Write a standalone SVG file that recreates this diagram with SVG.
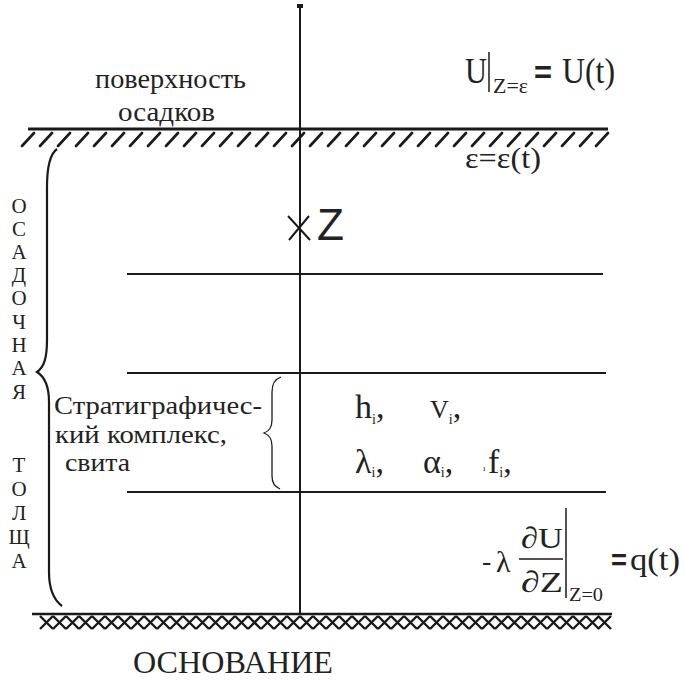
<svg xmlns="http://www.w3.org/2000/svg" width="685" height="682" viewBox="0 0 685 682">
<defs>
<style>
.t{font-family:"Liberation Serif","DejaVu Serif","Times New Roman",serif;fill:#222}
.s{font-family:"Liberation Sans",Arial,sans-serif;fill:#222}
.ln{stroke:#1a1a1a;fill:none}
</style>
<path id="cross" d="M0,0 L13,13 M13,0 L0,13" stroke="#1a1a1a" stroke-width="2.4" fill="none"/>
</defs>
<rect width="685" height="682" fill="#fff"/>
<g id="connectors">
<line class="ln" x1="300" y1="6" x2="300" y2="614" stroke-width="2"/>
<rect x="297" y="4" width="6" height="4" fill="#1a1a1a"/>
</g>
<g id="surface">
<line class="ln" x1="28" y1="129" x2="608" y2="129" stroke-width="3"/>
<path id="hatch" class="ln" stroke-width="2.6" stroke-linecap="round" d="M22,146 L34,133 M40,146 L52,133 M58,146 L70,133 M76,146 L88,133 M94,146 L106,133 M112,146 L124,133 M130,146 L142,133 M148,146 L160,133 M166,146 L178,133 M184,146 L196,133 M202,146 L214,133 M220,146 L232,133 M238,146 L250,133 M256,146 L268,133 M274,146 L286,133 M292,146 L304,133 M310,146 L322,133 M328,146 L340,133 M346,146 L358,133 M364,146 L376,133 M382,146 L394,133 M400,146 L412,133 M418,146 L430,133 M436,146 L448,133 M454,146 L466,133 M472,146 L484,133 M490,146 L502,133 M508,146 L520,133 M526,146 L538,133 M544,146 L556,133 M562,146 L574,133 M580,146 L592,133 M596,146 L608,133"/>
</g>
<g id="layers">
<line class="ln" x1="127" y1="274" x2="603" y2="274" stroke-width="2"/>
<line class="ln" x1="127" y1="373" x2="606" y2="373" stroke-width="2"/>
<line class="ln" x1="127" y1="492" x2="606" y2="492" stroke-width="2"/>
</g>
<g id="base">
<line class="ln" x1="32" y1="614" x2="612" y2="614" stroke-width="2.5"/>
<g id="crosses" transform="translate(0,616)">
<use href="#cross" x="40"/><use href="#cross" x="53"/><use href="#cross" x="66"/><use href="#cross" x="79"/><use href="#cross" x="92"/><use href="#cross" x="105"/><use href="#cross" x="118"/><use href="#cross" x="131"/><use href="#cross" x="144"/><use href="#cross" x="157"/><use href="#cross" x="170"/><use href="#cross" x="183"/><use href="#cross" x="196"/><use href="#cross" x="209"/><use href="#cross" x="222"/><use href="#cross" x="235"/><use href="#cross" x="248"/><use href="#cross" x="261"/><use href="#cross" x="274"/><use href="#cross" x="287"/><use href="#cross" x="300"/><use href="#cross" x="313"/><use href="#cross" x="326"/><use href="#cross" x="339"/><use href="#cross" x="352"/><use href="#cross" x="365"/><use href="#cross" x="378"/><use href="#cross" x="391"/><use href="#cross" x="404"/><use href="#cross" x="417"/><use href="#cross" x="430"/><use href="#cross" x="443"/><use href="#cross" x="456"/><use href="#cross" x="469"/><use href="#cross" x="482"/><use href="#cross" x="495"/><use href="#cross" x="508"/><use href="#cross" x="521"/><use href="#cross" x="534"/><use href="#cross" x="547"/><use href="#cross" x="560"/><use href="#cross" x="573"/><use href="#cross" x="586"/><use href="#cross" x="598"/>
</g>
</g>
<g id="braces">
<path class="ln" stroke-width="2.2" d="M57,149 C50,154 47,167 47,187 L47,340 C47,358 44,367 37,372 C45,377 49,386 49,402 L49,572 C49,590 54,600 62,606"/>
<path class="ln" stroke-width="1.3" d="M281,377 C275,379 272,384 272,392 L272,420 C272,428 269,431 264,433 C269,435 272,438 272,446 L272,476 C272,483 275,487 280,489"/>
</g>
<g id="label-surface">
<text class="t" x="95" y="88" font-size="27" textLength="151" lengthAdjust="spacingAndGlyphs">поверхность</text>
<text class="t" x="118" y="121" font-size="27" textLength="97" lengthAdjust="spacingAndGlyphs">осадков</text>
</g>
<g id="label-top-bc">
<text class="t" x="465" y="83" font-size="36" textLength="22" lengthAdjust="spacingAndGlyphs">U</text>
<line class="ln" x1="489" y1="52" x2="489" y2="92" stroke-width="1.5"/>
<text class="t" x="493" y="93" font-size="21" textLength="35" lengthAdjust="spacingAndGlyphs">Z=ε</text>
<text class="s" x="534" y="83" font-size="32" font-weight="bold" textLength="18" lengthAdjust="spacingAndGlyphs">=</text>
<text class="t" x="562" y="83" font-size="36" textLength="53" lengthAdjust="spacingAndGlyphs">U(t)</text>
<text class="t" x="465" y="168" font-size="29" textLength="76" lengthAdjust="spacingAndGlyphs">ε=ε(t)</text>
</g>
<g id="label-z">
<path class="ln" stroke-width="2" d="M288,216 L310,240 M309,216 L289,240"/>
<text class="s" x="317" y="240" font-size="44" textLength="27" lengthAdjust="spacingAndGlyphs">Z</text>
</g>
<g id="label-thickness" class="t" font-size="21" text-anchor="middle">
<text x="19" y="213">О</text>
<text x="19" y="236">С</text>
<text x="19" y="259">А</text>
<text x="19" y="282">Д</text>
<text x="19" y="305">О</text>
<text x="19" y="329">Ч</text>
<text x="19" y="352">Н</text>
<text x="19" y="375">А</text>
<text x="19" y="399">Я</text>
<text x="19" y="472">Т</text>
<text x="19" y="496">О</text>
<text x="19" y="520">Л</text>
<text x="19" y="544">Щ</text>
<text x="19" y="568">А</text>
</g>
<g id="label-strat">
<text class="t" x="54" y="414" font-size="25" textLength="208" lengthAdjust="spacingAndGlyphs">Стратиграфичес-</text>
<text class="t" x="55" y="443" font-size="25" textLength="172" lengthAdjust="spacingAndGlyphs">кий комплекс,</text>
<text class="t" x="65" y="471" font-size="25" textLength="65" lengthAdjust="spacingAndGlyphs">свита</text>
</g>
<g id="label-params" class="t">
<text x="355" y="418" font-size="34">h<tspan font-size="14" dy="6">i</tspan><tspan dy="-6">,</tspan></text>
<text x="430" y="418" font-size="26">V<tspan font-size="14" dy="6">i</tspan><tspan dy="-6" font-size="34">,</tspan></text>
<text x="355" y="473" font-size="34">λ<tspan font-size="14" dy="4">i</tspan><tspan dy="-4">,</tspan></text>
<text x="423" y="473" font-size="34">α<tspan font-size="14" dy="4">i</tspan><tspan dy="-4">,</tspan></text>
<text x="483" y="471" font-size="9">ı</text>
<text x="488" y="473" font-size="34">f<tspan font-size="14" dy="4">i</tspan><tspan dy="-4">,</tspan></text>
</g>
<g id="label-bottom-bc" class="t">
<text x="482" y="570" font-size="28">-</text>
<text x="496" y="572" font-size="30">λ</text>
<text x="521" y="548" font-size="30" textLength="42" lengthAdjust="spacingAndGlyphs">∂U</text>
<line class="ln" x1="519" y1="559" x2="563" y2="559" stroke-width="1.5"/>
<text x="521" y="592" font-size="30" textLength="42" lengthAdjust="spacingAndGlyphs">∂Z</text>
<line class="ln" x1="566" y1="508" x2="566" y2="598" stroke-width="1.5"/>
<text x="569" y="601" font-size="18" textLength="34" lengthAdjust="spacingAndGlyphs">Z=0</text>
<text class="s" x="611" y="570" font-size="30" font-weight="bold" textLength="16" lengthAdjust="spacingAndGlyphs">=</text>
<text x="630" y="570" font-size="32" textLength="50" lengthAdjust="spacingAndGlyphs">q(t)</text>
</g>
<g id="label-base">
<text class="t" x="133" y="673" font-size="31" textLength="200" lengthAdjust="spacingAndGlyphs">ОСНОВАНИЕ</text>
</g>
</svg>
